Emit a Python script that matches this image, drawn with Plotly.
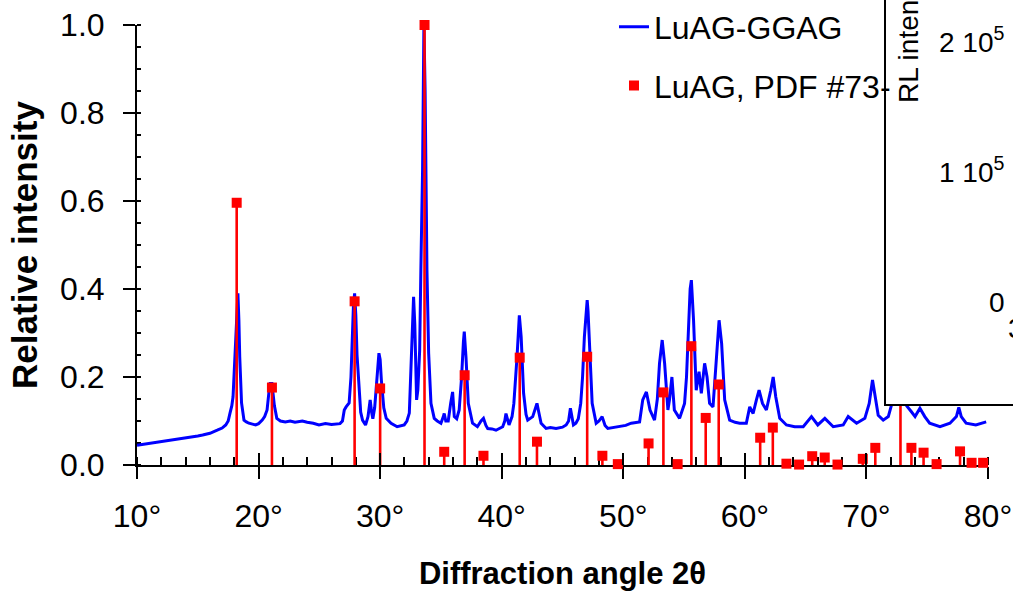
import plotly.graph_objects as go

# ---- measured XRD pattern (LuAG-GGAG), 2theta in degrees, relative intensity ----
xrd_angle = [
    10.0, 10.5, 11.0, 11.5, 12.0, 12.6, 13.2, 13.8, 14.4, 15.0, 15.4, 16.0, 16.6, 17.0, 17.3, 17.5,
    17.65, 17.8, 17.9, 18.0, 18.1, 18.2, 18.3, 18.38, 18.45, 18.6, 18.8, 19.0, 19.2, 19.5, 19.76,
    20.0, 20.3, 20.5, 20.7, 20.85, 20.95, 21.1, 21.2, 21.3, 21.5, 21.8, 22.2, 22.6, 23.0, 23.6,
    24.0, 24.5, 24.97, 25.5, 26.0, 26.35, 26.7, 26.9, 27.05, 27.2, 27.45, 27.6, 27.7, 27.8, 27.9,
    28.0, 28.1, 28.27, 28.4, 28.55, 28.8, 29.0, 29.18, 29.3, 29.4, 29.55, 29.65, 29.8, 29.9, 30.0,
    30.1, 30.3, 30.5, 30.9, 31.4, 31.98, 32.2, 32.4, 32.5, 32.6, 32.75, 32.85, 32.94, 33.0, 33.1,
    33.25, 33.35, 33.49, 33.6, 33.7, 33.85, 33.99, 34.18, 34.45, 34.7, 35.0, 35.2, 35.27, 35.4,
    35.6, 35.8, 35.96, 36.1, 36.3, 36.5, 36.7, 36.85, 36.92, 37.06, 37.25, 37.6, 38.0, 38.3, 38.5,
    38.7, 38.85, 39.2, 39.53, 40.08, 40.25, 40.35, 40.5, 40.6, 40.85, 41.0, 41.26, 41.45, 41.6,
    41.8, 42.0, 42.14, 42.55, 42.75, 42.9, 43.05, 43.24, 43.65, 44.0, 44.47, 45.0, 45.3, 45.5,
    45.65, 45.9, 46.1, 46.3, 46.5, 46.65, 46.8, 46.95, 47.03, 47.1, 47.2, 47.44, 47.77, 48.0,
    48.26, 48.5, 48.73, 49.2, 49.69, 50.2, 50.65, 51.0, 51.34, 51.6, 51.9, 52.2, 52.57, 52.8,
    52.98, 53.2, 53.4, 53.67, 53.8, 54.0, 54.2, 54.63, 55.04, 55.2, 55.32, 55.5, 55.6, 55.7,
    55.78, 56.0, 56.23, 56.42, 56.69, 56.89, 57.1, 57.38, 57.65, 57.88, 58.09, 58.34, 58.75,
    59.2, 59.57, 60.12, 60.4, 60.68, 60.95, 61.17, 61.45, 61.77, 62.13, 62.33, 62.54, 62.87,
    63.42, 64.1, 64.8, 65.48, 66.0, 66.58, 67.27, 68.09, 68.5, 69.19, 69.87, 70.23, 70.5, 70.7,
    70.97, 71.38, 71.8, 72.2, 72.5, 72.85, 73.1, 73.3, 73.7, 74.0, 74.4, 74.8, 75.2, 76.05,
    76.87, 77.4, 77.6, 77.8, 78.2, 79.0, 79.85,
]
xrd_intensity = [
    0.045, 0.047, 0.050, 0.051, 0.053, 0.055, 0.058, 0.060, 0.063, 0.066, 0.068, 0.072, 0.079, 0.084, 0.091, 0.100,
    0.118, 0.135, 0.155, 0.220, 0.291, 0.360, 0.390, 0.330, 0.246, 0.141, 0.102, 0.098, 0.095, 0.093, 0.091,
    0.094, 0.102, 0.110, 0.125, 0.165, 0.185, 0.185, 0.160, 0.135, 0.106, 0.100, 0.098, 0.100, 0.097, 0.100,
    0.097, 0.095, 0.091, 0.094, 0.092, 0.093, 0.094, 0.100, 0.125, 0.132, 0.141, 0.200, 0.290, 0.360, 0.390,
    0.340, 0.250, 0.170, 0.120, 0.102, 0.091, 0.110, 0.148, 0.120, 0.105, 0.130, 0.170, 0.230, 0.254, 0.240,
    0.193, 0.130, 0.106, 0.095, 0.087, 0.091, 0.100, 0.118, 0.200, 0.306, 0.382, 0.320, 0.200, 0.148, 0.170,
    0.260, 0.443, 0.670, 1.000, 0.850, 0.443, 0.254, 0.140, 0.106, 0.100, 0.095, 0.110, 0.117, 0.100,
    0.100, 0.140, 0.166, 0.110, 0.105, 0.125, 0.200, 0.280, 0.303, 0.246, 0.140, 0.095, 0.087, 0.100, 0.106,
    0.090, 0.083, 0.082, 0.079, 0.087, 0.100, 0.117, 0.100, 0.091, 0.110, 0.140, 0.246, 0.340, 0.291,
    0.163, 0.115, 0.102, 0.110, 0.125, 0.140, 0.120, 0.095, 0.083, 0.085, 0.083, 0.086, 0.091, 0.100,
    0.129, 0.091, 0.095, 0.105, 0.140, 0.200, 0.291, 0.360, 0.375, 0.350, 0.291, 0.140, 0.095, 0.100,
    0.110, 0.090, 0.083, 0.085, 0.087, 0.090, 0.095, 0.096, 0.098, 0.148, 0.166, 0.125, 0.102, 0.150,
    0.231, 0.284, 0.231, 0.125, 0.148, 0.200, 0.125, 0.106, 0.140, 0.200, 0.291, 0.400, 0.420, 0.380,
    0.329, 0.170, 0.212, 0.163, 0.231, 0.200, 0.140, 0.132, 0.246, 0.329, 0.276, 0.148, 0.102,
    0.097, 0.095, 0.095, 0.132, 0.117, 0.148, 0.170, 0.140, 0.125, 0.170, 0.200, 0.155, 0.106,
    0.091, 0.087, 0.087, 0.110, 0.091, 0.106, 0.087, 0.091, 0.110, 0.095, 0.106, 0.140, 0.193, 0.155,
    0.113, 0.102, 0.110, 0.150, 0.220, 0.300, 0.180, 0.135, 0.121, 0.110, 0.129, 0.110, 0.095, 0.087,
    0.095, 0.110, 0.131, 0.110, 0.095, 0.091, 0.098,
]

# ---- reference pattern LuAG (PDF card) ----
pdf_angle = [18.2, 21.1, 27.9, 30.0, 33.65, 35.27, 36.95, 38.5, 41.48, 42.9, 47.03, 48.28, 49.55,
             52.08, 53.3, 54.47, 55.6, 56.78, 57.85, 61.26, 62.3, 63.42, 64.46, 65.54, 66.57,
             67.62, 69.7, 70.73, 72.8, 73.7, 74.7, 75.77, 77.7, 78.65, 79.6]
pdf_intensity = [0.596, 0.176, 0.372, 0.174, 1.0, 0.030, 0.204, 0.021, 0.244, 0.053, 0.246, 0.021, 0.002,
                 0.049, 0.165, 0.002, 0.270, 0.107, 0.183, 0.062, 0.085, 0.003, 0.001, 0.020, 0.017,
                 0.001, 0.014, 0.039, 0.300, 0.039, 0.028, 0.002, 0.031, 0.005, 0.005]

x_ticks = [10, 20, 30, 40, 50, 60, 70, 80]
y_ticks = [0.0, 0.2, 0.4, 0.6, 0.8, 1.0]

# inset (RL spectrum, cropped) texts
inset_title = "RL intensity"
inset_ytick_text = ["2 10<sup>5</sup>", "1 10<sup>5</sup>", "0"]

FONT = "Arial, Liberation Sans, sans-serif"
BLUE = "#0000ff"
RED = "#ff0000"

fig = go.Figure()
fig.add_trace(go.Scatter(
    x=xrd_angle, y=xrd_intensity, mode="lines", name="LuAG-GGAG",
    line=dict(color=BLUE, width=3), legendgroup="a",
))
fig.add_trace(go.Scatter(
    x=pdf_angle, y=pdf_intensity, mode="markers", name="LuAG, PDF #73-",
    marker=dict(symbol="square", size=10, color=RED),
    error_y=dict(type="data", symmetric=False, array=[0] * len(pdf_angle),
                 arrayminus=pdf_intensity, color=RED, thickness=2.6, width=0),
    cliponaxis=False, legendgroup="b",
))
# carrier for the inner halves of the major ticks
fig.add_trace(go.Scatter(x=[10], y=[0], xaxis="x2", yaxis="y2", mode="markers",
                         marker=dict(opacity=0), showlegend=False, hoverinfo="skip"))

L, R, T, B = 137, 25, 24.5, 126
W, H = 1013, 591
pw, ph = W - L - R, H - T - B


def px(x):
    return (x - L) / pw


def py(y):
    return (H - B - y) / ph


axis_common = dict(showgrid=False, zeroline=False, showline=True, linecolor="black", linewidth=2,
                   tickcolor="black", tickwidth=2, ticks="outside", ticklen=12, automargin=False,
                   tickfont=dict(family=FONT, size=32, color="black"), layer="below traces")

fig.update_layout(
    width=W, height=H,
    margin=dict(l=L, r=R, t=T, b=B, autoexpand=False),
    paper_bgcolor="white", plot_bgcolor="white",
    font=dict(family=FONT, color="black"),
    xaxis=dict(range=[10, 80], tickvals=x_ticks, ticktext=[f"{v}°" for v in x_ticks],
               minor=dict(dtick=2, tick0=10, ticks="inside", ticklen=8, tickwidth=2, tickcolor="black"),
               title=dict(text="<b>Diffraction angle 2θ</b>", font=dict(family=FONT, size=31), standoff=34),
               ticklabelstandoff=10,
               **axis_common),
    yaxis=dict(range=[0, 1], tickvals=y_ticks, ticktext=[f"{v:.1f}" for v in y_ticks],
               minor=dict(dtick=0.05, tick0=0, ticks="inside", ticklen=4, tickwidth=2, tickcolor="black"),
               title=dict(text="<b>Relative intensity</b>", font=dict(family=FONT, size=35), standoff=12),
               ticklabelstandoff=12,
               **axis_common),
    xaxis2=dict(overlaying="x", matches="x", anchor="y2", side="bottom", showgrid=False, zeroline=False,
                showline=False, showticklabels=False, ticks="inside", ticklen=12, tickwidth=2,
                tickcolor="black", tickvals=x_ticks, automargin=False),
    yaxis2=dict(overlaying="y", matches="y", anchor="x2", side="left", showgrid=False, zeroline=False,
                showline=False, showticklabels=False, ticks="inside", ticklen=4, tickwidth=2,
                tickcolor="black", tickvals=y_ticks, automargin=False),
    showlegend=True,
    legend=dict(x=px(614), y=py(-1), xanchor="left", yanchor="top", bgcolor="rgba(0,0,0,0)",
                font=dict(family=FONT, size=32, color="black"), traceorder="grouped",
                tracegroupgap=14, itemwidth=30),
)

# cropped inset frame (opaque, covers the plot beneath)
fig.add_shape(type="rect", xref="paper", yref="paper", x0=px(885), x1=px(1040), y0=py(405), y1=py(-20),
              fillcolor="white", line=dict(color="black", width=2), layer="above")

fig.add_annotation(text=inset_title, xref="paper", yref="paper", x=px(909), y=py(105),
                   xanchor="center", yanchor="bottom", textangle=-90, showarrow=False,
                   font=dict(family=FONT, size=28, color="black"))
for t, yy in zip(inset_ytick_text, [40, 170, 302]):
    fig.add_annotation(text=t, xref="paper", yref="paper", x=px(1007), y=py(yy),
                       xanchor="right", yanchor="middle", showarrow=False,
                       font=dict(family=FONT, size=28, color="black"))
fig.add_annotation(text="300", xref="paper", yref="paper", x=px(1006), y=py(328),
                   xanchor="left", yanchor="middle", showarrow=False,
                   font=dict(family=FONT, size=28, color="black"))

fig.write_html("out.html")
